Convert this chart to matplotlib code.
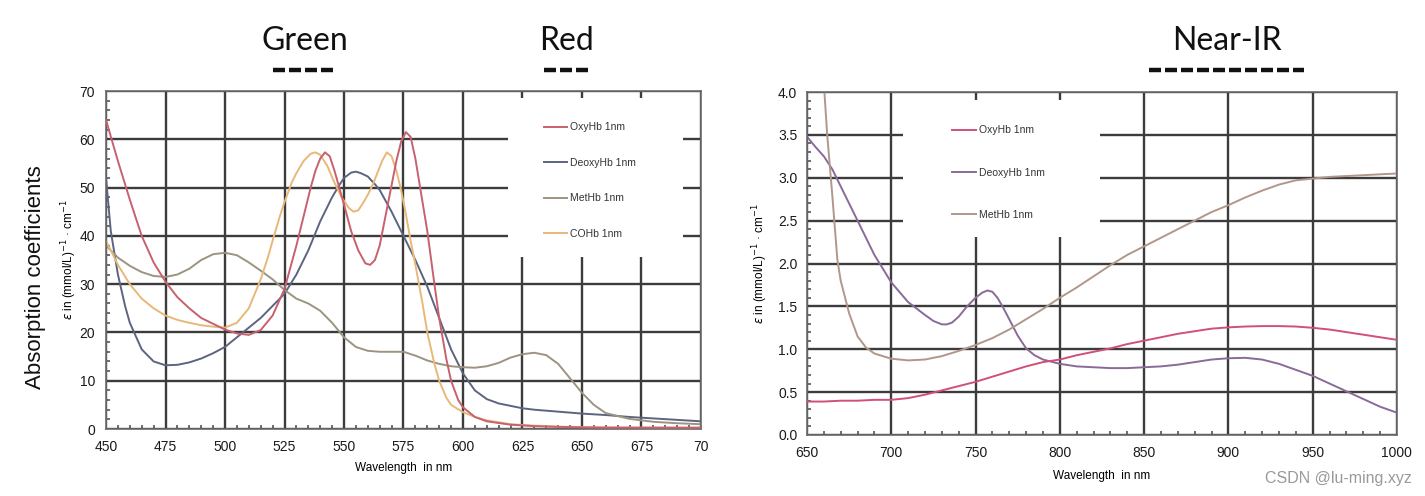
import matplotlib.pyplot as plt
from matplotlib.patches import Rectangle
from matplotlib.ticker import MultipleLocator, FixedLocator

plt.rcParams['font.family'] = ['Liberation Sans', 'DejaVu Sans']

# ---- 可见光部分 (450-700 nm) ----
oxy_wl = [450, 455, 460, 465, 470, 475, 480, 485, 490, 495, 500, 505, 510, 515, 520, 525,
          530, 533, 536, 538, 540, 542, 544, 546, 548, 550, 553, 556, 559, 561, 563, 565,
          567, 570, 572, 574, 576, 578, 580, 582, 585, 588, 590, 593, 595, 598, 600, 605,
          610, 620, 630, 640, 650, 660, 670, 680, 690, 700]
oxy_val = [64, 55.5, 47.5, 40, 34.5, 30.5, 27.3, 25, 23, 21.8, 20.6, 19.8, 19.5, 20.5, 23.5, 29,
           38, 44, 50, 53.5, 56, 57.3, 56.5, 53.5, 50, 46.5, 41, 37, 34.3, 34, 35, 38,
           43, 50.5, 55.5, 59.5, 61.5, 60.5, 56, 50, 41, 30, 23, 14.5, 10, 6, 4.5, 2.5,
           1.6, 0.9, 0.6, 0.45, 0.35, 0.3, 0.3, 0.3, 0.3, 0.3]

deoxy_wl = [450, 452, 455, 458, 460, 465, 470, 475, 480, 485, 490, 495, 500, 505, 510, 515,
            520, 525, 530, 535, 540, 545, 548, 550, 553, 555, 557, 560, 563, 565, 570, 575,
            580, 585, 590, 595, 600, 605, 610, 615, 620, 625, 630, 640, 650, 660, 670, 680,
            690, 700]
deoxy_val = [52, 41, 32, 25.5, 22, 16.5, 14, 13.2, 13.3, 13.8, 14.6, 15.7, 17, 19, 21, 23,
             25.5, 28, 32, 37, 43, 48, 50.5, 52, 53.1, 53.3, 53, 52.3, 50.7, 49.5, 45, 40,
             35, 29.5, 23, 16.5, 11.5, 8, 6.2, 5.3, 4.8, 4.3, 4, 3.6, 3.2, 2.9, 2.5, 2.2,
             1.9, 1.6]

met_wl = [450, 455, 460, 465, 470, 475, 480, 485, 490, 495, 500, 505, 510, 515, 520, 525,
          530, 535, 540, 545, 550, 555, 560, 565, 570, 575, 580, 585, 590, 595, 600, 605,
          610, 615, 620, 625, 630, 635, 640, 645, 650, 655, 660, 670, 680, 690, 700]
met_val = [38, 35.5, 33.8, 32.5, 31.7, 31.5, 32, 33.2, 35, 36.2, 36.5, 36, 34.5, 32.8, 31, 28.8,
           27, 26, 24.5, 22, 19, 17, 16.2, 16, 16, 16, 15.2, 14.2, 13.5, 13, 12.8, 12.7,
           13, 13.7, 14.8, 15.5, 15.8, 15.3, 13.5, 10.5, 7.5, 5, 3.3, 2.1, 1.5, 1.2, 1.0]

co_wl = [450, 455, 460, 465, 470, 475, 480, 485, 490, 495, 500, 505, 510, 515, 518, 520,
         523, 525, 528, 530, 533, 536, 538, 540, 543, 546, 549, 552, 554, 556, 558, 560,
         562, 564, 566, 568, 570, 572, 574, 576, 578, 580, 583, 585, 588, 590, 593, 595,
         600, 605, 610, 620, 630, 640, 660, 680, 700]
co_val = [39, 34, 30, 27, 25, 23.5, 22.6, 22, 21.5, 21.2, 21, 22, 25, 31, 35.5, 39,
          44, 47, 51, 53, 55.5, 57, 57.3, 56.8, 54.5, 51, 48, 45.8, 45, 45.3, 46.8, 48.5,
          50.5, 53, 55.5, 57.3, 56.5, 53.5, 49.5, 44.5, 39, 34, 26, 20, 13.5, 10, 6.5, 5,
          3.5, 2.5, 1.8, 1, 0.7, 0.5, 0.3, 0.25, 0.2]

vis_xticks = [450, 475, 500, 525, 550, 575, 600, 625, 650, 675, 700]
vis_xlabels = ['450', '475', '500', '525', '550', '575', '600', '625', '650', '675', '70']
vis_yticks = [0, 10, 20, 30, 40, 50, 60, 70]

# ---- 近红外部分 (650-1000 nm) ----
nir_wl = [650, 660, 670, 680, 690, 700, 710, 720, 730, 740, 750, 760, 770, 780, 790, 800,
          810, 820, 830, 840, 850, 860, 870, 880, 890, 900, 910, 920, 930, 940, 950, 960,
          970, 980, 990, 1000]
nir_oxy = [0.39, 0.39, 0.4, 0.4, 0.41, 0.41, 0.43, 0.47, 0.52, 0.57, 0.62, 0.68, 0.74, 0.8,
           0.85, 0.88, 0.93, 0.97, 1.01, 1.06, 1.1, 1.14, 1.18, 1.21, 1.24, 1.255, 1.265, 1.27,
           1.27, 1.265, 1.25, 1.23, 1.2, 1.17, 1.14, 1.11]

nir_deoxy_wl = [650, 655, 660, 665, 670, 680, 690, 700, 710, 720, 725, 730, 733, 736, 740, 745,
                750, 754, 757, 760, 763, 766, 770, 775, 780, 785, 790, 800, 810, 820, 830, 840,
                850, 860, 870, 880, 890, 900, 910, 920, 930, 940, 950, 960, 970, 980, 990, 1000]
nir_deoxy = [3.48, 3.36, 3.25, 3.1, 2.9, 2.5, 2.1, 1.78, 1.55, 1.4, 1.33, 1.29, 1.29, 1.31, 1.38, 1.5,
             1.6, 1.66, 1.685, 1.67, 1.6, 1.5, 1.35, 1.16, 1.01, 0.93, 0.88, 0.83, 0.8, 0.79, 0.78, 0.78,
             0.79, 0.8, 0.82, 0.85, 0.88, 0.895, 0.9, 0.88, 0.83, 0.76, 0.69, 0.6, 0.51, 0.42, 0.33, 0.26]

nir_met_wl = [656, 660, 662, 665, 668, 670, 675, 680, 685, 690, 700, 710, 720, 730, 740, 750,
              760, 770, 780, 790, 800, 810, 820, 830, 840, 850, 860, 870, 880, 890, 900, 910,
              920, 930, 940, 950, 960, 970, 980, 990, 1000]
nir_met = [5.0, 4.1, 3.5, 2.8, 2.05, 1.8, 1.42, 1.15, 1.02, 0.95, 0.89, 0.87, 0.88, 0.92, 0.98, 1.05,
           1.13, 1.23, 1.35, 1.47, 1.6, 1.72, 1.85, 1.98, 2.1, 2.2, 2.3, 2.4, 2.5, 2.6, 2.68, 2.77,
           2.85, 2.92, 2.97, 2.99, 3.01, 3.02, 3.03, 3.04, 3.05]

nir_xticks = [650, 700, 750, 800, 850, 900, 950, 1000]
nir_yticks = [0.0, 0.5, 1.0, 1.5, 2.0, 2.5, 3.0, 3.5, 4.0]

# 波段标注
band_names = ['Green', 'Red', 'Near-IR']
band_ranges = [(520, 547), (634, 653), (853, 945)]

ylab = r'$\epsilon$ in (mmol/L)$^{-1}$ · cm$^{-1}$'
grid_col = '#3c3c3c'

fig = plt.figure(figsize=(14.25, 4.96), dpi=100)
ax1 = fig.add_axes([0.0744, 0.135, 0.4175, 0.6815])
ax2 = fig.add_axes([0.5663, 0.123, 0.414, 0.6915])


def style_axes(ax, ypad):
    ax.set_axisbelow(True)
    ax.grid(True, which='major', color=grid_col, lw=1.7)
    for s in ax.spines.values():
        s.set_color('#6a6a6a')
        s.set_linewidth(1.2)
    ax.tick_params(which='major', length=0, labelsize=10, colors='#1a1a1a')
    ax.tick_params(axis='y', which='major', pad=ypad)
    ax.tick_params(axis='x', which='major', pad=8)
    ax.tick_params(which='minor', direction='in', length=3, width=1.2, color='#555555')


# 左图
ax1.plot(oxy_wl, oxy_val, color='#c8606e', lw=1.4, label='OxyHb 1nm', zorder=3)
ax1.plot(deoxy_wl, deoxy_val, color='#5c6480', lw=1.4, label='DeoxyHb 1nm', zorder=2)
ax1.plot(met_wl, met_val, color='#9c9480', lw=1.4, label='MetHb 1nm', zorder=2)
ax1.plot(co_wl, co_val, color='#e8b878', lw=1.4, label='COHb 1nm', zorder=2)
ax1.set_xlim(450, 700)
ax1.set_ylim(0, 70)
ax1.xaxis.set_major_locator(FixedLocator(vis_xticks))
ax1.set_xticklabels(vis_xlabels)
ax1.set_yticks(vis_yticks)
ax1.xaxis.set_minor_locator(MultipleLocator(5))
ax1.yaxis.set_minor_locator(MultipleLocator(2))
style_axes(ax1, 8)
ax1.set_xlabel('Wavelength  in nm', fontsize=8.5, labelpad=6)
ax1.set_ylabel(ylab, fontsize=8.5)
ax1.yaxis.set_label_coords(-0.046, 0.5)
ax1.add_patch(Rectangle((0.676, 0.509), 0.294, 0.47, transform=ax1.transAxes,
                        facecolor='white', edgecolor='none', zorder=1.5))
ax1.legend(loc='upper left', bbox_to_anchor=(0.728, 0.923), frameon=False, fontsize=7.5,
           borderpad=0, handlelength=2.2, handletextpad=0.3, labelspacing=2.45,
           labelcolor='#333333')

# 右图
ax2.plot(nir_wl, nir_oxy, color='#d0507a', lw=1.4, label='OxyHb 1nm', zorder=3)
ax2.plot(nir_deoxy_wl, nir_deoxy, color='#8a6a98', lw=1.4, label='DeoxyHb 1nm', zorder=2)
ax2.plot(nir_met_wl, nir_met, color='#b0978a', lw=1.4, label='MetHb 1nm', zorder=2)
ax2.set_xlim(650, 1000)
ax2.set_ylim(0, 4.0)
ax2.set_xticks(nir_xticks)
ax2.set_yticks(nir_yticks)
ax2.set_yticklabels([f'{v:.1f}' for v in nir_yticks])
ax2.xaxis.set_minor_locator(MultipleLocator(10))
ax2.yaxis.set_minor_locator(MultipleLocator(0.1))
style_axes(ax2, 7)
ax2.set_xlabel('Wavelength  in nm', fontsize=8.5, labelpad=7)
ax2.set_ylabel(ylab, fontsize=8.5)
ax2.yaxis.set_label_coords(-0.062, 0.5)
ax2.add_patch(Rectangle((0.163, 0.577), 0.334, 0.40, transform=ax2.transAxes,
                        facecolor='white', edgecolor='none', zorder=1.5))
ax2.legend(loc='upper left', bbox_to_anchor=(0.237, 0.918), frameon=False, fontsize=7.5,
           borderpad=0, handlelength=2.3, handletextpad=0.3, labelspacing=3.1,
           labelcolor='#333333')

# 波段标题与虚线
for name, (lo, hi) in zip(band_names, band_ranges):
    ax = ax2 if name == 'Near-IR' else ax1
    tr = ax.get_xaxis_transform()
    ax.plot([lo, hi], [1.063, 1.063], transform=tr, clip_on=False, color='#111111',
            lw=3.2, dashes=(2.7, 0.9), solid_capstyle='butt', dash_capstyle='butt')
    ax.text((lo + hi) / 2, 1.148, name, transform=tr, ha='center', va='center',
            fontsize=23, family=['Lato', 'DejaVu Sans'], color='#111111')

fig.text(0.0246, 0.4415, 'Absorption coefficients', rotation=90, ha='center', va='center',
         fontsize=16, color='#111111')
fig.text(0.991, 0.036, 'CSDN @lu-ming.xyz', ha='right', va='center', fontsize=11.5,
         color='#9a9a9a')

fig.savefig('out.png', dpi=100)
